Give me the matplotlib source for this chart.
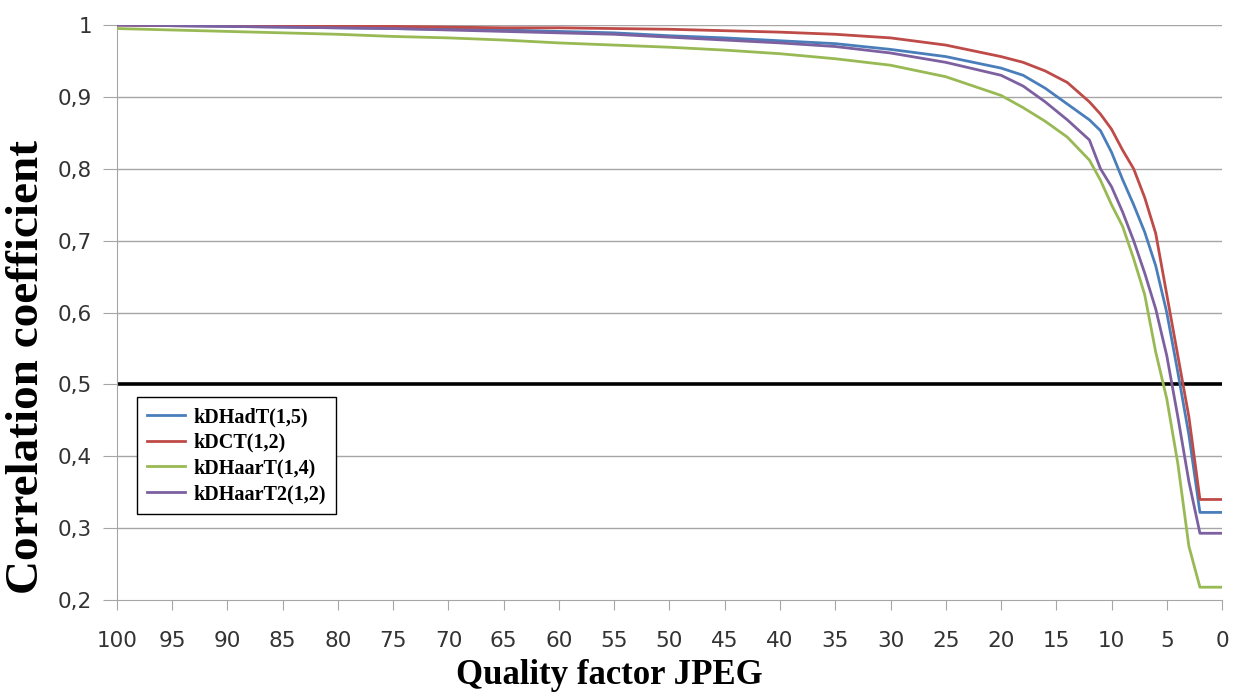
import numpy as np
import matplotlib
matplotlib.use("Agg")
import matplotlib.pyplot as plt

# quality factor (x axis runs from 100 down to 0)
quality = [100, 95, 90, 85, 80, 75, 70, 65, 60, 55, 50, 45, 40, 35, 30, 25,
           20, 18, 16, 14, 12, 11, 10, 9, 8, 7, 6, 5, 4, 3, 2, 1, 0]

kdhadt = [1.0, 0.999, 0.998, 0.997, 0.996, 0.995, 0.994, 0.993, 0.991, 0.989,
          0.985, 0.982, 0.978, 0.974, 0.966, 0.956, 0.940, 0.930, 0.912, 0.890,
          0.868, 0.853, 0.823, 0.785, 0.750, 0.712, 0.665, 0.600, 0.517, 0.430,
          0.322, 0.322, 0.322]
kdct = [1.0, 0.999, 0.999, 0.999, 0.998, 0.998, 0.997, 0.996, 0.996, 0.995,
        0.994, 0.992, 0.990, 0.987, 0.982, 0.972, 0.956, 0.948, 0.936, 0.920,
        0.893, 0.876, 0.855, 0.826, 0.800, 0.760, 0.710, 0.625, 0.540, 0.455,
        0.340, 0.340, 0.340]
kdhaart = [0.995, 0.993, 0.991, 0.989, 0.987, 0.984, 0.982, 0.979, 0.975, 0.972,
           0.969, 0.965, 0.960, 0.953, 0.944, 0.928, 0.902, 0.885, 0.866, 0.844,
           0.812, 0.784, 0.750, 0.720, 0.675, 0.625, 0.545, 0.480, 0.390, 0.275,
           0.218, 0.218, 0.218]
kdhaart2 = [1.0, 0.999, 0.998, 0.997, 0.996, 0.995, 0.993, 0.991, 0.989, 0.987,
            0.983, 0.979, 0.975, 0.970, 0.961, 0.948, 0.930, 0.915, 0.893, 0.868,
            0.840, 0.800, 0.775, 0.740, 0.700, 0.655, 0.605, 0.540, 0.455, 0.365,
            0.293, 0.293, 0.293]

series = [("kDHadT(1,5)", kdhadt, "#4A7EBB"),
          ("kDCT(1,2)", kdct, "#BE4B48"),
          ("kDHaarT(1,4)", kdhaart, "#98B954"),
          ("kDHaarT2(1,2)", kdhaart2, "#7D60A0")]

yticks = [0.2, 0.3, 0.4, 0.5, 0.6, 0.7, 0.8, 0.9, 1.0]
ytick_labels = ["0,2", "0,3", "0,4", "0,5", "0,6", "0,7", "0,8", "0,9", "1"]
xticks = list(range(0, 101, 5))

fig = plt.figure(figsize=(12.35, 6.93), dpi=100)
ax = fig.add_axes([0.0947, 0.134, 0.8948, 0.830])

for yv in yticks:
    if yv == 0.5:
        ax.axhline(yv, color="black", linewidth=2.6, zorder=1)
    elif yv > 0.2:
        ax.axhline(yv, color="#A6A6A6", linewidth=1.0, zorder=1)

for name, vals, col in series:
    ax.plot(quality, vals, color=col, linewidth=2.0, label=name, zorder=3)

ax.set_xlim(100, 0)
ax.set_ylim(0.2, 1.0)
ax.set_xticks(xticks)
ax.set_xticklabels([str(v) for v in xticks])
ax.set_yticks(yticks)
ax.set_yticklabels(ytick_labels)
ax.tick_params(axis="both", colors="#A6A6A6", labelcolor="#333333",
               labelsize=15.5, direction="out")
ax.tick_params(axis="x", length=7, pad=15)
ax.tick_params(axis="y", length=10, pad=8)

for s in ["top", "right"]:
    ax.spines[s].set_visible(False)
for s in ["left", "bottom"]:
    ax.spines[s].set_color("#A6A6A6")

ax.set_xlabel("Quality factor JPEG", family="Liberation Serif", fontweight="bold",
              fontsize=25)
ax.xaxis.set_label_coords(0.446, -0.102)
ax.set_ylabel("Correlation coefficient", family="Liberation Serif", fontweight="bold",
              fontsize=34)
ax.yaxis.set_label_coords(-0.062, 0.405)

leg = ax.legend(loc="upper left", bbox_to_anchor=(0.018, 0.353), borderaxespad=0,
                fancybox=False, framealpha=1, edgecolor="black", handlelength=1.9,
                prop={"family": "Liberation Serif", "weight": "bold", "size": 14.5},
                borderpad=0.5, labelspacing=0.28, handletextpad=0.4)
leg.get_frame().set_linewidth(1.0)

fig.savefig("out.png", dpi=100)
